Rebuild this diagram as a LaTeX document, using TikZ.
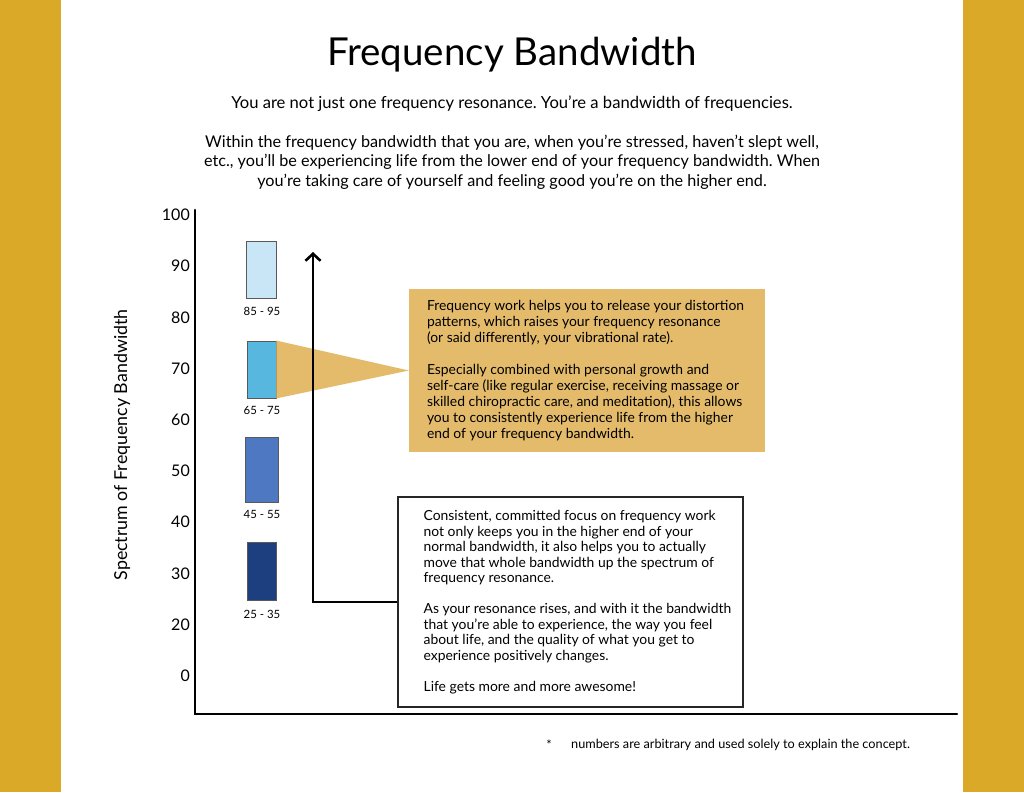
\documentclass[tikz,border=0pt]{standalone}
\usepackage{fontspec}
\setmainfont{Lato}
\usetikzlibrary{arrows.meta}
\frenchspacing
\definecolor{gold}{HTML}{DAA928}
\definecolor{tanbox}{HTML}{E4BB6B}
\definecolor{barA}{HTML}{C8E6F6}
\definecolor{barB}{HTML}{58B7DF}
\definecolor{barC}{HTML}{4E79C2}
\definecolor{barD}{HTML}{1D3F7F}
\begin{document}
\begin{tikzpicture}[x=1pt,y=-1pt,
  barbox/.style={draw=black!65, line width=0.8pt, inner sep=0pt},
  barlabel/.style={font=\fontsize{11.4}{13}\selectfont, inner sep=0pt},
  ticklabel/.style={font=\fontsize{16}{18}\selectfont, anchor=east, inner sep=0pt},
  bodytext/.style={align=left, inner sep=0pt},
  axisline/.style={line width=2.6pt, line cap=round}
]
\useasboundingbox (0,0) rectangle (1024,792);
\fill[white] (0,0) rectangle (1024,792);
\fill[gold] (0,0) rectangle (61,792);
\fill[gold] (963,0) rectangle (1024,792);

% title and intro
\node[font=\fontsize{38.5}{44}\selectfont] (title) at (512,55) {Frequency Bandwidth};
\node[font=\fontsize{16.6}{20}\selectfont] (sub) at (512,104) {You are not just one frequency resonance. You’re a bandwidth of frequencies.};
\node[font=\fontsize{16.2}{19.5}\selectfont, align=center] (intro) at (512,162) {Within the frequency bandwidth that you are, when you’re stressed, haven’t slept well,\\ etc., you’ll be experiencing life from the lower end of your frequency bandwidth. When\\ you’re taking care of yourself and feeling good you’re on the higher end.};

% axes
\coordinate (ytop) at (195,210);
\coordinate (origin) at (195,714);
\coordinate (xend) at (957,714);
\draw[axisline] (ytop) -- (origin) -- (xend);

\foreach \v/\y in {100/215,90/266,80/318,70/369,60/420,50/471,40/522,30/574,20/625,0/676}
  \node[ticklabel] (t\v) at (190,\y) {\v};

\node[font=\fontsize{17.8}{20}\selectfont, rotate=90] (ylab) at (122,445) {Spectrum of Frequency Bandwidth};

% bars
\node[barbox, fill=barA, minimum width=30pt, minimum height=57pt] (bar1) at (261,269.5) {};
\node[barbox, fill=barB, minimum width=29pt, minimum height=57pt] (bar2) at (261.5,369.5) {};
\node[barbox, fill=barC, minimum width=33pt, minimum height=65pt] (bar3) at (261.5,469.5) {};
\node[barbox, fill=barD, minimum width=29pt, minimum height=58pt] (bar4) at (261.5,571) {};
\node[barlabel] (l1) at (262,311) {85 - 95};
\node[barlabel] (l2) at (262,410) {65 - 75};
\node[barlabel] (l3) at (262,514) {45 - 55};
\node[barlabel] (l4) at (262,614) {25 - 35};

% orange box with wedge
\node[fill=tanbox, minimum width=356pt, minimum height=163pt, inner sep=0pt] (obox) at (587,370.5) {};
\fill[tanbox] (bar2.north east) -- (obox.west) -- (bar2.south east) -- cycle;
\node[bodytext, anchor=west, font=\fontsize{13.9}{16}\selectfont] (otext) at ([xshift=18pt]obox.west) {Frequency work helps you to release your distortion\\ patterns, which raises your frequency resonance\\ (or said differently, your vibrational rate).\\[16pt] Especially combined with personal growth and\\ self-care (like regular exercise, receiving massage or\\ skilled chiropractic care, and meditation), this allows\\ you to consistently experience life from the higher\\ end of your frequency bandwidth.};

% white box
\node[draw=black!85, line width=1.2pt, fill=white, minimum width=345pt, minimum height=210pt, inner sep=0pt] (wbox) at (570.5,602) {};
\node[bodytext, anchor=west, font=\fontsize{13.9}{15.5}\selectfont] (wtext) at ([xshift=26pt]wbox.west) {Consistent, committed focus on frequency work\\ not only keeps you in the higher end of your\\ normal bandwidth, it also helps you to actually\\ move that whole bandwidth up the spectrum of\\ frequency resonance.\\[15.5pt] As your resonance rises, and with it the bandwidth\\ that you’re able to experience, the way you feel\\ about life, and the quality of what you get to\\ experience positively changes.\\[15.5pt] Life gets more and more awesome!};

% arrow
\coordinate (atip) at (313,252);
\draw[line width=1.3pt, -{Straight Barb[length=7pt, width=15pt, line width=2.6pt]}] (wbox.west) -| (atip);

% footnote
\node[font=\fontsize{12.7}{14}\selectfont, inner sep=0pt] (star) at (549,745) {*};
\node[font=\fontsize{12.7}{14}\selectfont, anchor=west, inner sep=0pt] (foot) at (571,745) {numbers are arbitrary and used solely to explain the concept.};
\end{tikzpicture}
\end{document}
